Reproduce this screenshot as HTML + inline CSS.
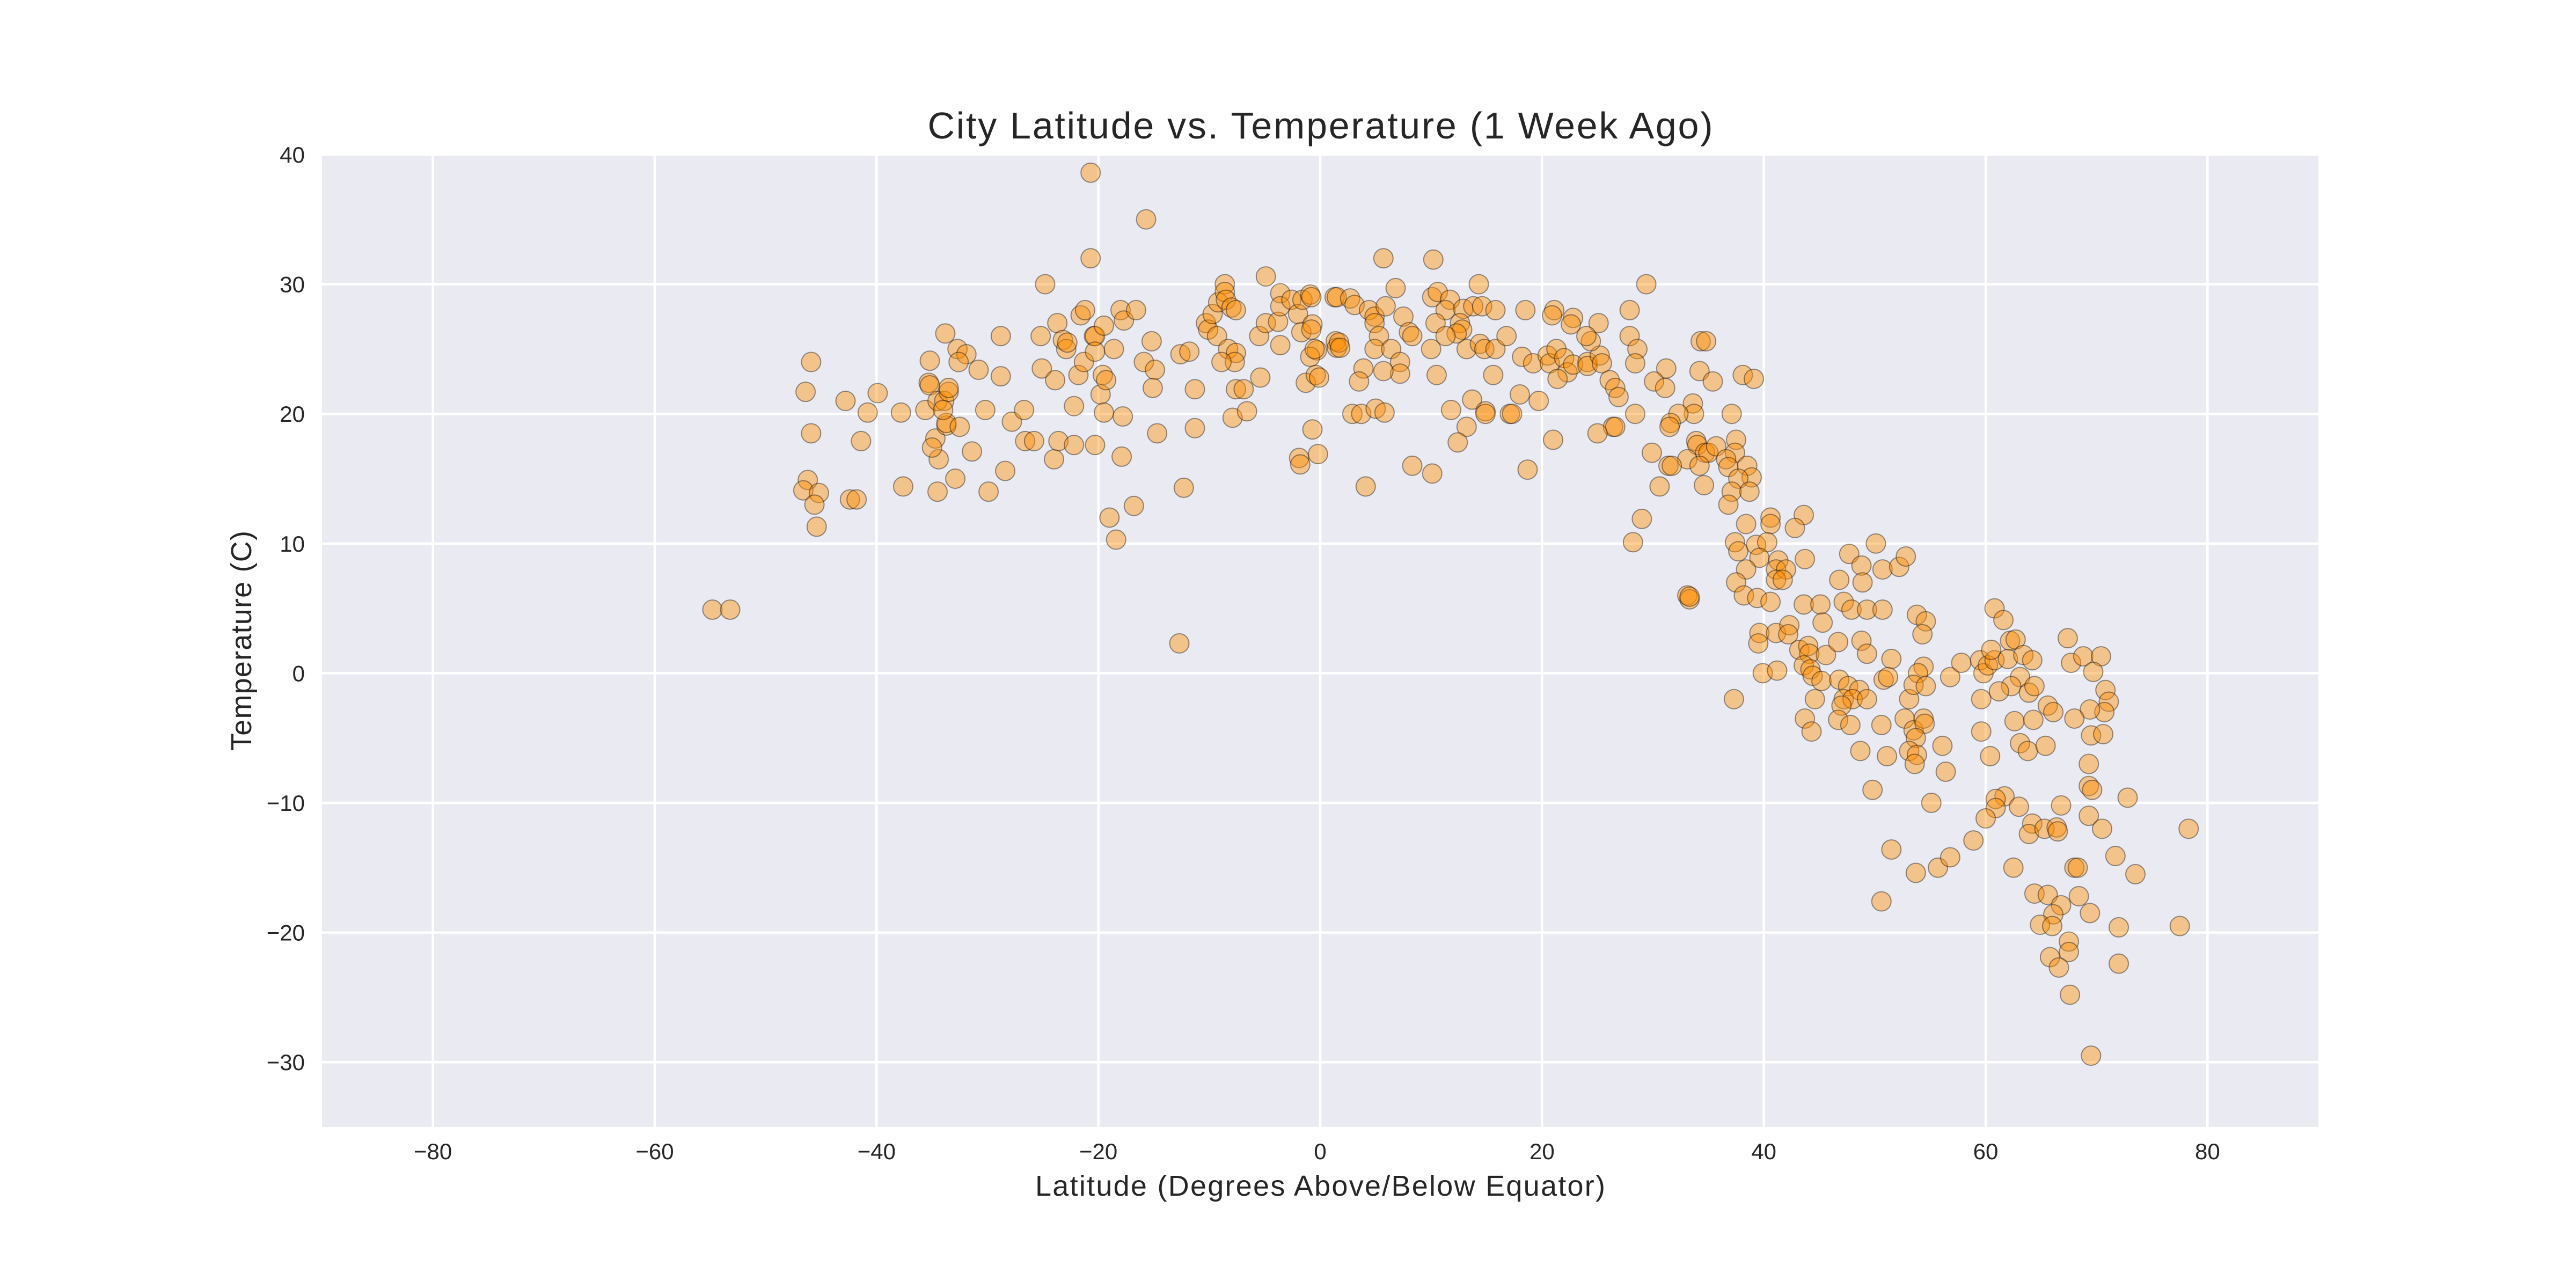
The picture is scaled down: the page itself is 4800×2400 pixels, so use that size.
<!DOCTYPE html>
<html><head><meta charset="utf-8"><style>html,body{margin:0;padding:0;background:#fff}svg{display:block}</style></head>
<body>
<svg id="chart" xmlns="http://www.w3.org/2000/svg" width="4800" height="2400" viewBox="0 0 4800 2400" font-family="'Liberation Sans', sans-serif">
<rect width="4800" height="2400" fill="#ffffff"/>
<rect x="600" y="288" width="3720" height="1812" fill="#eaeaf2"/>
<g id="grid"></g>
<g id="ticks" font-size="42" fill="#262626"></g>
<g id="points"></g>
<text x="2460" y="258" text-anchor="middle" font-size="70" fill="#262626" textLength="1463">City Latitude vs. Temperature (1 Week Ago)</text>
<text x="2460" y="2228" text-anchor="middle" font-size="54" fill="#262626" textLength="1062">Latitude (Degrees Above/Below Equator)</text>
<text x="0" y="0" transform="translate(468,1194) rotate(-90)" text-anchor="middle" font-size="54" fill="#262626" textLength="410">Temperature (C)</text>
</svg>
<script>
const xTicks = [-80,-60,-40,-20,0,20,40,60,80];
const yTicks = [-30,-20,-10,0,10,20,30,40];
const lats = [
-54.8,-53.2,-46.4,-45.9,-46.2,-46.6,-45.9,-45.2,-45.6,-45.4,-42.8,-42.4,-41.8,-41.4,-40.8,-39.9,-37.8,-37.6,
-35.6,-35.2,-35.3,-35.2,-34.4,-34.5,-34.7,-35.0,-34.5,-33.9,-33.5,-33.5,-33.8,-33.7,-33.7,-34.0,-32.9,-32.7,-31.9,-32.6,-32.5,-31.4,-30.8,-30.2,-29.9,-28.8,-28.8,-28.4,-27.8,-26.7,-26.6,-25.8,-25.2,-25.1,-24.8,-24.0,-23.9,-23.6,-23.7,-23.2,-22.9,-22.8,-22.2,-22.2,-21.8,-21.6,-21.3,-21.2,-20.7,-20.7,-20.4,-20.3,-20.3,-20.3,-19.8,-19.5,-19.5,-19.6,-19.3,-19.0,-18.6,-18.4,-18.0,-17.9,-17.8,-17.7,-16.8,-16.6,-15.7,-15.9,-15.2,-14.9,-15.1,-14.7,-12.7,-12.3,-12.6,-11.8,-11.3,-11.3,-10.3,-10.1,-9.7,-9.3,-9.2,-8.6,-8.6,-8.5,-8.3,-8.0,-7.6,-7.6,-7.7,-8.9,-7.9,-7.6,-6.9,-6.6,-5.5,-5.4,-4.9,-4.9,-3.8,-3.6,-3.6,-3.6,-2.6,-2.0,-1.6,-1.7,-1.3,-1.9,-1.8,-0.9,-0.8,-0.7,-0.8,-0.3,-0.9,-0.4,-0.1,-0.5,-0.2,-0.7,1.3,1.4,1.5,
1.5,2.7,3.1,4.4,4.9,4.9,5.7,5.9,6.8,7.5,10.2,10.1,10.6,11.7,11.3,12.9,13.8,14.3,14.6,15.8,18.5,21.1,20.9,22.8,22.6,25.1,27.9,29.4,10.4,12.6,12.8,12.3,11.3,8.0,8.3,5.3,4.9,6.4,1.7,1.8,10.0,13.2,14.4,14.8,15.8,16.8,18.2,19.2,20.5,20.7,21.3,22.0,22.3,22.8,21.4,24.1,24.1,25.2,25.4,24.4,24.0,27.9,28.6,28.4,26.1,26.6,26.9,31.2,30.1,31.1,34.3,34.8,34.2,35.4,38.1,39.1,33.6,33.7,32.3,31.6,31.5,37.1,37.5,37.4,33.9,34.0,34.7,35.0,35.7,33.1,31.4,31.7,34.2,36.6,36.8,38.5,38.9,37.7,30.6,29.9,28.4,26.4,26.6,25.0,29.0,28.2,33.1,33.3,18.0,19.7,15.6,13.7,14.9,14.9,11.8,13.2,12.4,17.1,17.3,10.5,7.2,7.2,5.7,3.9,3.5,2.9,3.7,5.0,5.8,8.3,10.1,4.1,18.7,21.0,
34.6,37.1,36.8,38.7,38.4,40.6,40.6,43.6,42.8,37.4,37.7,39.3,40.3,39.6,41.3,38.4,41.1,42.0,43.7,37.5,41.1,41.7,38.2,39.4,40.6,33.3,43.6,45.1,45.3,46.8,47.2,47.9,47.7,48.8,48.9,50.1,50.7,52.2,52.8,49.3,50.7,53.8,54.6,54.3,39.6,39.5,41.1,42.3,42.2,39.9,41.2,37.3,43.2,44.0,44.1,43.6,44.2,44.4,45.2,45.6,46.7,48.8,49.3,51.5,46.8,47.6,48.6,47.2,48.0,49.3,47.0,44.6,43.7,44.3,46.7,47.8,50.6,48.7,51.1,49.8,50.8,51.2,53.1,52.7,53.5,54.4,54.5,53.7,53.1,53.8,53.6,54.4,53.9,53.5,54.6,56.8,57.8,56.1,56.4,55.1,51.5,53.7,55.7,56.8,50.6,58.9,59.5,59.8,60.2,60.8,59.6,59.6,60.4,60.5,60.8,61.6,62.2,62.7,62.0,63.4,64.2,63.1,62.3,61.2,63.9,64.4,65.6,66.1,62.6,64.3,63.1,63.8,65.4,67.4,67.7,68.8,70.4,69.7,70.8,71.1,70.7,69.4,68.0,69.5,70.6,69.3,69.3,69.6,72.8,69.3,70.5,78.3,71.7,73.5,61.7,60.9,60.9,60.0,63.0,64.2,63.9,65.3,66.4,66.5,66.8,62.5,68.0,68.3,64.4,65.6,66.8,68.4,69.4,66.1,64.9,66.0,72.0,77.5,67.5,67.5,65.8,66.6,72.0,67.6,69.5
];
const temps = [
4.9,4.9,21.7,24.0,14.9,14.1,18.5,13.9,13.0,11.3,21.0,13.4,13.4,17.9,20.1,21.6,20.1,14.4,
20.3,24.1,22.4,22.2,16.5,14.0,18.1,17.4,21.0,21.0,21.7,22.0,26.2,19.1,19.3,20.3,15.0,25.0,24.6,24.0,19.0,17.1,23.4,20.3,14.0,26.0,22.9,15.6,19.4,20.3,17.9,17.9,26.0,23.5,30.0,16.5,22.6,17.9,27.0,25.7,25.0,25.5,20.6,17.6,23.0,27.6,24.0,28.0,38.6,32.0,26.0,26.0,17.6,24.8,21.5,26.8,20.1,23.0,22.6,12.0,25.0,10.3,28.0,16.7,19.8,27.2,12.9,28.0,35.0,24.0,25.6,23.4,22.0,18.5,2.3,14.3,24.6,24.8,18.9,21.9,27.0,26.5,27.7,26.0,28.6,30.0,29.4,28.8,25.0,28.2,28.0,24.7,24.0,24.0,19.7,21.9,21.9,20.2,26.0,22.8,30.6,27.0,27.1,29.3,28.3,25.3,28.8,27.7,28.8,26.3,22.4,16.6,16.1,29.2,29.0,26.9,26.5,24.9,24.4,23.0,22.8,25.0,16.9,18.8,29.0,25.6,25.1,
29.0,28.9,28.4,28.0,27.5,27.0,32.0,28.3,29.7,27.5,31.9,29.0,29.4,28.8,28.0,28.1,28.3,30.0,28.3,28.0,28.0,28.0,27.6,27.4,26.9,27.0,28.0,30.0,27.0,27.0,26.5,26.2,26.0,26.3,26.0,26.0,25.0,25.0,25.5,25.1,25.0,25.0,25.4,25.0,25.0,26.0,24.4,23.9,24.5,23.9,25.0,24.3,23.2,23.8,22.7,24.0,23.7,24.5,23.9,25.6,26.0,26.0,25.0,23.9,22.6,22.0,21.3,23.5,22.5,22.0,25.6,25.6,23.3,22.5,23.0,22.7,20.8,20.0,20.0,19.3,19.0,20.0,18.0,17.0,17.9,17.6,17.0,17.0,17.5,16.5,16.0,16.0,16.0,16.5,15.9,16.0,15.1,15.0,14.4,17.0,20.0,19.0,19.0,18.5,11.9,10.1,6.0,5.7,21.5,21.0,23.0,21.1,20.2,20.0,20.3,19.0,17.8,20.0,20.0,23.0,24.0,23.1,23.3,23.5,22.5,20.0,20.0,20.4,20.1,16.0,15.4,14.4,15.7,18.0,
14.5,14.0,13.0,14.0,11.5,12.0,11.5,12.2,11.2,10.1,9.4,9.9,10.1,8.9,8.7,8.0,8.0,8.0,8.8,7.0,7.2,7.2,6.0,5.8,5.5,5.9,5.3,5.3,3.9,7.2,5.5,4.9,9.2,8.3,7.0,10.0,8.0,8.2,9.0,4.9,4.9,4.5,4.0,3.0,3.1,2.3,3.1,3.7,3.0,0.0,0.2,-2.0,1.8,2.1,1.5,0.6,0.3,-0.2,-0.6,1.4,2.4,2.5,1.5,1.1,-0.5,-1.0,-1.3,-2.0,-2.0,-2.0,-2.5,-2.0,-3.5,-4.5,-3.6,-4.0,-4.0,-6.0,-6.4,-9.0,-0.5,-0.3,-2.0,-3.5,-4.4,-3.5,-3.9,-5.0,-6.0,-6.3,-7.0,0.5,0.0,-0.9,-1.0,-0.3,0.8,-5.6,-7.6,-10.0,-13.6,-15.4,-15.0,-14.2,-17.6,-12.9,1.0,0.0,0.6,1.0,-2.0,-4.5,-6.4,1.8,5.0,4.1,2.5,2.6,1.1,1.4,1.0,-0.3,-1.0,-1.4,-1.5,-1.0,-2.5,-3.0,-3.7,-3.6,-5.4,-6.0,-5.6,2.7,0.8,1.3,1.3,0.1,-1.3,-2.2,-3.0,-2.8,-3.5,-4.8,-4.7,-7.0,-8.7,-9.0,-9.6,-11.0,-12.0,-12.0,-14.1,-15.5,-9.5,-9.7,-10.4,-11.2,-10.3,-11.6,-12.4,-12.0,-11.9,-12.2,-10.2,-15.0,-15.0,-15.0,-17.0,-17.1,-17.9,-17.2,-18.5,-18.6,-19.4,-19.5,-19.6,-19.5,-20.7,-21.5,-21.9,-22.7,-22.4,-24.8,-29.5
];
const NS = 'http://www.w3.org/2000/svg';
const X0 = 600, X1 = 4320, Y0 = 2100, Y1 = 288;
const xMin = -90, xMax = 90, yMin = -35, yMax = 40;
function sx(v){ return X0 + (v - xMin) / (xMax - xMin) * (X1 - X0); }
function sy(v){ return Y0 - (v - yMin) / (yMax - yMin) * (Y0 - Y1); }
const grid = document.getElementById('grid');
const ticks = document.getElementById('ticks');
xTicks.forEach(t => {
  const l = document.createElementNS(NS, 'line');
  l.setAttribute('x1', sx(t)); l.setAttribute('x2', sx(t));
  l.setAttribute('y1', Y1); l.setAttribute('y2', Y0);
  l.setAttribute('stroke', '#ffffff'); l.setAttribute('stroke-width', '4.5');
  
  
  grid.appendChild(l);
  const tx = document.createElementNS(NS, 'text');
  tx.setAttribute('x', sx(t)); tx.setAttribute('y', 2160);
  tx.setAttribute('text-anchor', 'middle');
  tx.textContent = String(t).replace('-', '\u2212');
  
  
  ticks.appendChild(tx);
});
yTicks.forEach(t => {
  const l = document.createElementNS(NS, 'line');
  l.setAttribute('x1', X0); l.setAttribute('x2', X1);
  l.setAttribute('y1', sy(t)); l.setAttribute('y2', sy(t));
  l.setAttribute('stroke', '#ffffff'); l.setAttribute('stroke-width', '4.5');
  
  
  grid.appendChild(l);
  const tx = document.createElementNS(NS, 'text');
  tx.setAttribute('x', 568); tx.setAttribute('y', sy(t) + 15);
  tx.setAttribute('text-anchor', 'end');
  tx.textContent = String(t).replace('-', '\u2212');
  
  
  ticks.appendChild(tx);
});
const pts = document.getElementById('points');
lats.forEach((lat, i) => {
  const c = document.createElementNS(NS, 'circle');
  c.setAttribute('cx', sx(lat)); c.setAttribute('cy', sy(temps[i]));
  c.setAttribute('r', 18);
  c.setAttribute('fill', 'rgba(255,140,0,0.42)');
  c.setAttribute('stroke', 'rgba(0,0,0,0.4)');
  c.setAttribute('stroke-width', '2');
  
  
  pts.appendChild(c);
});
</script>
</body></html>
